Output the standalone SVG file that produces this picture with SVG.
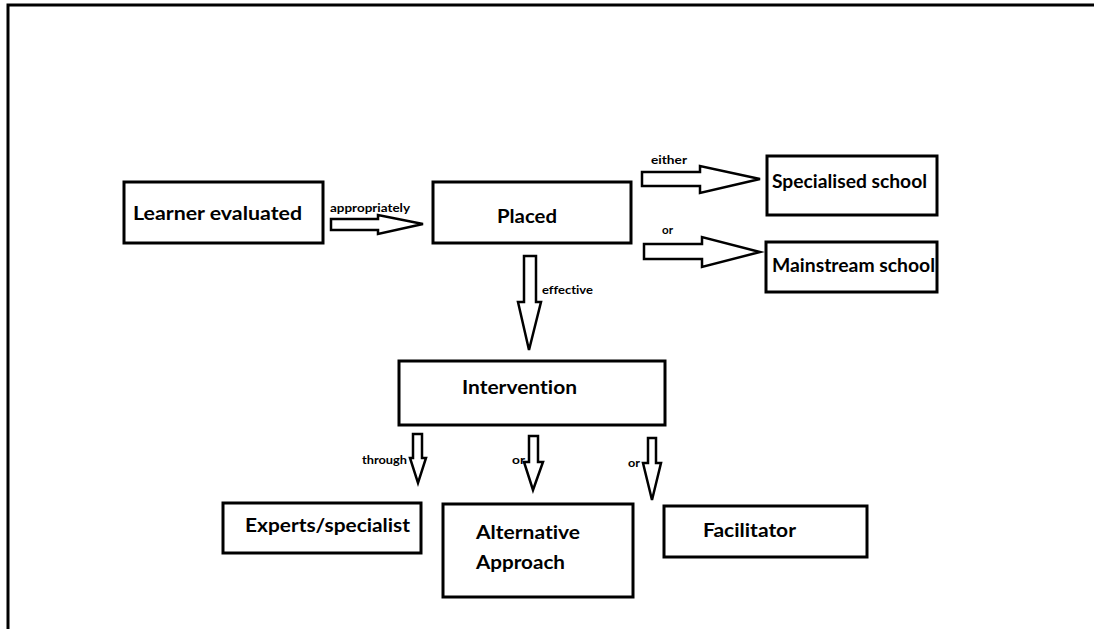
<svg xmlns="http://www.w3.org/2000/svg" width="1094" height="629" viewBox="0 0 1094 629">
<style>
.box{fill:#fff;stroke:#000;stroke-width:3}
.arr{fill:#fff;stroke:#000;stroke-width:2.5;stroke-linejoin:miter}
.t{font-family:Lato,"Liberation Sans",sans-serif;font-weight:bold;font-size:19px;fill:#000;font-variant-ligatures:none}
.s{font-family:Lato,"Liberation Sans",sans-serif;font-weight:bold;font-size:12px;fill:#000;font-variant-ligatures:none}
</style>
<rect x="0" y="0" width="1094" height="629" fill="#fff"/>
<polyline points="8,629 8,5 1094,5" fill="none" stroke="#000" stroke-width="3"/>

<g id="learner"><rect class="box" x="124" y="182" width="199" height="61"/><text class="t" x="133" y="220" textLength="169" lengthAdjust="spacingAndGlyphs">Learner evaluated</text></g>
<g id="placed"><rect class="box" x="433" y="182" width="198" height="61"/><text class="t" x="497" y="223" textLength="60" lengthAdjust="spacingAndGlyphs">Placed</text></g>
<g id="specialised"><rect class="box" x="767" y="156" width="170" height="59"/><text class="t" x="772" y="188" textLength="155" lengthAdjust="spacingAndGlyphs">Specialised school</text></g>
<g id="mainstream"><rect class="box" x="766" y="242" width="171" height="50"/><text class="t" x="772" y="272" textLength="163" lengthAdjust="spacingAndGlyphs">Mainstream school</text></g>
<g id="intervention"><rect class="box" x="399" y="361" width="266" height="64"/><text class="t" x="462" y="394" textLength="115" lengthAdjust="spacingAndGlyphs">Intervention</text></g>
<g id="experts"><rect class="box" x="223" y="503" width="198" height="50"/><text class="t" x="245" y="532" textLength="165" lengthAdjust="spacingAndGlyphs">Experts/specialist</text></g>
<g id="alternative"><rect class="box" x="443" y="504" width="190" height="93"/><text class="t" x="476" y="539" textLength="104" lengthAdjust="spacingAndGlyphs">Alternative</text><text class="t" x="476" y="569" textLength="89" lengthAdjust="spacingAndGlyphs">Approach</text></g>
<g id="facilitator"><rect class="box" x="664" y="506" width="203" height="51"/><text class="t" x="703" y="537" textLength="93" lengthAdjust="spacingAndGlyphs">Facilitator</text></g>

<g id="connectors">
<polygon class="arr" points="331,219 378,219 378,215 423,224 378,234 378,230 331,230"/>
<text class="s" x="330" y="212" textLength="80" lengthAdjust="spacingAndGlyphs">appropriately</text>
<polygon class="arr" points="642,172 700,172 700,166 760,179 700,193 700,186 642,186"/>
<text class="s" x="651" y="164" textLength="36" lengthAdjust="spacingAndGlyphs">either</text>
<polygon class="arr" points="644,244 702,244 702,237 760,252 702,267 702,259 644,259"/>
<text class="s" x="662" y="234" textLength="11" lengthAdjust="spacingAndGlyphs">or</text>
<polygon class="arr" points="524,256 536,256 536,302 541,302 529,350 518,302 524,302"/>
<text class="s" x="542" y="294" textLength="51" lengthAdjust="spacingAndGlyphs">effective</text>
<polygon class="arr" points="413,434 422,434 422,458 426,458 418,483 410,458 413,458"/>
<text class="s" x="362" y="464" textLength="45" lengthAdjust="spacingAndGlyphs">through</text>
<polygon class="arr" points="529,436 538,436 538,462 543,462 533,490 524,462 529,462"/>
<text class="s" x="512" y="464" textLength="13" lengthAdjust="spacingAndGlyphs">or</text>
<polygon class="arr" points="648,438 656,438 656,463 661,463 652,500 643,463 648,463"/>
<text class="s" x="628" y="467" textLength="12" lengthAdjust="spacingAndGlyphs">or</text>
</g>
</svg>
